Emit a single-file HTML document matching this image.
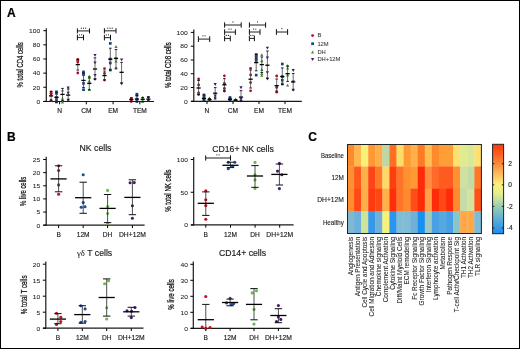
<!DOCTYPE html>
<html><head><meta charset="utf-8"><style>
html,body{margin:0;padding:0;background:#fff;}
body{width:520px;height:349px;overflow:hidden;}
svg{display:block;will-change:transform;}
text{font-family:"Liberation Sans",sans-serif;}
</style></head><body>
<svg width="520" height="349" viewBox="0 0 520 349">
<rect x="0" y="0" width="520" height="349" fill="#fff"/>
<line x1="46.30" y1="28.20" x2="46.30" y2="102.10" stroke="#1a1a1a" stroke-width="1.2" />
<line x1="43.30" y1="101.50" x2="154.00" y2="101.50" stroke="#1a1a1a" stroke-width="1.2" />
<line x1="43.30" y1="101.40" x2="46.30" y2="101.40" stroke="#000" stroke-width="1" />
<text transform="translate(40.30,103.70) scale(1.1,1)" x="0" y="0" font-size="6.1" text-anchor="end" fill="#1a1a1a" stroke="#1a1a1a" stroke-width="0.045" >0</text>
<line x1="43.30" y1="87.26" x2="46.30" y2="87.26" stroke="#000" stroke-width="1" />
<text transform="translate(40.30,89.56) scale(1.1,1)" x="0" y="0" font-size="6.1" text-anchor="end" fill="#1a1a1a" stroke="#1a1a1a" stroke-width="0.045" >20</text>
<line x1="43.30" y1="73.12" x2="46.30" y2="73.12" stroke="#000" stroke-width="1" />
<text transform="translate(40.30,75.42) scale(1.1,1)" x="0" y="0" font-size="6.1" text-anchor="end" fill="#1a1a1a" stroke="#1a1a1a" stroke-width="0.045" >40</text>
<line x1="43.30" y1="58.98" x2="46.30" y2="58.98" stroke="#000" stroke-width="1" />
<text transform="translate(40.30,61.28) scale(1.1,1)" x="0" y="0" font-size="6.1" text-anchor="end" fill="#1a1a1a" stroke="#1a1a1a" stroke-width="0.045" >60</text>
<line x1="43.30" y1="44.84" x2="46.30" y2="44.84" stroke="#000" stroke-width="1" />
<text transform="translate(40.30,47.14) scale(1.1,1)" x="0" y="0" font-size="6.1" text-anchor="end" fill="#1a1a1a" stroke="#1a1a1a" stroke-width="0.045" >80</text>
<line x1="43.30" y1="30.70" x2="46.30" y2="30.70" stroke="#000" stroke-width="1" />
<text transform="translate(40.30,33.00) scale(1.1,1)" x="0" y="0" font-size="6.1" text-anchor="end" fill="#1a1a1a" stroke="#1a1a1a" stroke-width="0.045" >100</text>
<line x1="59.60" y1="101.50" x2="59.60" y2="104.30" stroke="#000" stroke-width="1" />
<text x="59.60" y="113.40" font-size="6.6" text-anchor="middle" fill="#1a1a1a" stroke="#1a1a1a" stroke-width="0.150" >N</text>
<line x1="86.30" y1="101.50" x2="86.30" y2="104.30" stroke="#000" stroke-width="1" />
<text x="86.30" y="113.40" font-size="6.6" text-anchor="middle" fill="#1a1a1a" stroke="#1a1a1a" stroke-width="0.150" >CM</text>
<line x1="113.10" y1="101.50" x2="113.10" y2="104.30" stroke="#000" stroke-width="1" />
<text x="113.10" y="113.40" font-size="6.6" text-anchor="middle" fill="#1a1a1a" stroke="#1a1a1a" stroke-width="0.150" >EM</text>
<line x1="139.85" y1="101.50" x2="139.85" y2="104.30" stroke="#000" stroke-width="1" />
<text x="139.85" y="113.40" font-size="6.6" text-anchor="middle" fill="#1a1a1a" stroke="#1a1a1a" stroke-width="0.150" >TEM</text>
<text transform="translate(23.00,64.80) rotate(-90)" x="0" y="0" font-size="8.6" font-weight="normal" text-anchor="middle" fill="#111" stroke="#111" stroke-width="0.25" textLength="45.2" lengthAdjust="spacingAndGlyphs">% total CD4 cells</text>
<circle cx="51.10" cy="91.80" r="1.38" fill="#b00c24"/>
<circle cx="51.10" cy="93.20" r="1.38" fill="#b00c24"/>
<circle cx="51.10" cy="94.00" r="1.38" fill="#b00c24"/>
<circle cx="51.10" cy="100.40" r="1.38" fill="#b00c24"/>
<line x1="51.10" y1="91.50" x2="51.10" y2="100.20" stroke="#444" stroke-width="0.8" />
<line x1="49.80" y1="91.50" x2="52.40" y2="91.50" stroke="#111" stroke-width="0.9" />
<line x1="49.80" y1="100.20" x2="52.40" y2="100.20" stroke="#111" stroke-width="0.9" />
<line x1="49.00" y1="95.90" x2="53.20" y2="95.90" stroke="#000" stroke-width="1.3" />
<rect x="55.17" y="90.47" width="2.66" height="2.66" fill="#183c82"/>
<rect x="55.17" y="92.17" width="2.66" height="2.66" fill="#183c82"/>
<rect x="55.17" y="96.07" width="2.66" height="2.66" fill="#183c82"/>
<rect x="55.17" y="98.67" width="2.66" height="2.66" fill="#183c82"/>
<rect x="55.17" y="100.67" width="2.66" height="2.66" fill="#183c82"/>
<line x1="56.50" y1="92.50" x2="56.50" y2="102.00" stroke="#444" stroke-width="0.8" />
<line x1="55.20" y1="92.50" x2="57.80" y2="92.50" stroke="#111" stroke-width="0.9" />
<line x1="55.20" y1="102.00" x2="57.80" y2="102.00" stroke="#111" stroke-width="0.9" />
<line x1="54.40" y1="97.40" x2="58.60" y2="97.40" stroke="#000" stroke-width="1.3" />
<polygon points="62.50,88.69 64.11,91.59 60.88,91.59" fill="#349328"/>
<polygon points="62.50,96.89 64.11,99.79 60.88,99.79" fill="#349328"/>
<polygon points="62.50,100.59 64.11,103.49 60.88,103.49" fill="#349328"/>
<line x1="62.50" y1="88.40" x2="62.50" y2="100.50" stroke="#444" stroke-width="0.8" />
<line x1="61.20" y1="88.40" x2="63.80" y2="88.40" stroke="#111" stroke-width="0.9" />
<line x1="61.20" y1="100.50" x2="63.80" y2="100.50" stroke="#111" stroke-width="0.9" />
<line x1="60.40" y1="94.40" x2="64.60" y2="94.40" stroke="#000" stroke-width="1.3" />
<polygon points="68.20,89.31 69.81,86.41 66.59,86.41" fill="#401468"/>
<polygon points="68.20,94.61 69.81,91.71 66.59,91.71" fill="#401468"/>
<polygon points="68.20,101.61 69.81,98.71 66.59,98.71" fill="#401468"/>
<line x1="68.20" y1="89.00" x2="68.20" y2="100.00" stroke="#444" stroke-width="0.8" />
<line x1="66.90" y1="89.00" x2="69.50" y2="89.00" stroke="#111" stroke-width="0.9" />
<line x1="66.90" y1="100.00" x2="69.50" y2="100.00" stroke="#111" stroke-width="0.9" />
<line x1="66.10" y1="95.10" x2="70.30" y2="95.10" stroke="#000" stroke-width="1.3" />
<circle cx="77.80" cy="59.30" r="1.38" fill="#b00c24"/>
<circle cx="77.80" cy="60.60" r="1.38" fill="#b00c24"/>
<circle cx="77.80" cy="61.90" r="1.38" fill="#b00c24"/>
<circle cx="77.80" cy="73.00" r="1.38" fill="#b00c24"/>
<line x1="77.80" y1="59.30" x2="77.80" y2="70.10" stroke="#444" stroke-width="0.8" />
<line x1="76.50" y1="59.30" x2="79.10" y2="59.30" stroke="#111" stroke-width="0.9" />
<line x1="76.50" y1="70.10" x2="79.10" y2="70.10" stroke="#111" stroke-width="0.9" />
<line x1="75.70" y1="64.60" x2="79.90" y2="64.60" stroke="#000" stroke-width="1.3" />
<rect x="82.17" y="70.57" width="2.66" height="2.66" fill="#183c82"/>
<rect x="82.17" y="71.97" width="2.66" height="2.66" fill="#183c82"/>
<rect x="82.17" y="73.47" width="2.66" height="2.66" fill="#183c82"/>
<rect x="82.17" y="82.07" width="2.66" height="2.66" fill="#183c82"/>
<rect x="82.17" y="88.37" width="2.66" height="2.66" fill="#183c82"/>
<line x1="83.50" y1="73.00" x2="83.50" y2="87.50" stroke="#444" stroke-width="0.8" />
<line x1="82.20" y1="73.00" x2="84.80" y2="73.00" stroke="#111" stroke-width="0.9" />
<line x1="82.20" y1="87.50" x2="84.80" y2="87.50" stroke="#111" stroke-width="0.9" />
<line x1="81.40" y1="80.40" x2="85.60" y2="80.40" stroke="#000" stroke-width="1.3" />
<polygon points="89.30,74.69 90.91,77.59 87.69,77.59" fill="#349328"/>
<polygon points="89.30,75.98 90.91,78.89 87.69,78.89" fill="#349328"/>
<polygon points="89.30,79.59 90.91,82.49 87.69,82.49" fill="#349328"/>
<polygon points="89.30,88.09 90.91,90.99 87.69,90.99" fill="#349328"/>
<line x1="89.30" y1="77.00" x2="89.30" y2="89.70" stroke="#444" stroke-width="0.8" />
<line x1="88.00" y1="77.00" x2="90.60" y2="77.00" stroke="#111" stroke-width="0.9" />
<line x1="88.00" y1="89.70" x2="90.60" y2="89.70" stroke="#111" stroke-width="0.9" />
<line x1="87.20" y1="83.40" x2="91.40" y2="83.40" stroke="#000" stroke-width="1.3" />
<polygon points="95.00,56.82 96.61,53.91 93.39,53.91" fill="#401468"/>
<polygon points="95.00,64.31 96.61,61.41 93.39,61.41" fill="#401468"/>
<polygon points="95.00,76.81 96.61,73.91 93.39,73.91" fill="#401468"/>
<polygon points="95.00,80.91 96.61,78.01 93.39,78.01" fill="#401468"/>
<line x1="95.00" y1="57.80" x2="95.00" y2="79.50" stroke="#444" stroke-width="0.8" />
<line x1="93.70" y1="57.80" x2="96.30" y2="57.80" stroke="#111" stroke-width="0.9" />
<line x1="93.70" y1="79.50" x2="96.30" y2="79.50" stroke="#111" stroke-width="0.9" />
<line x1="92.90" y1="69.00" x2="97.10" y2="69.00" stroke="#000" stroke-width="1.3" />
<circle cx="104.50" cy="68.60" r="1.38" fill="#b00c24"/>
<circle cx="104.50" cy="73.40" r="1.38" fill="#b00c24"/>
<circle cx="104.50" cy="80.10" r="1.38" fill="#b00c24"/>
<line x1="104.50" y1="71.00" x2="104.50" y2="80.00" stroke="#444" stroke-width="0.8" />
<line x1="103.20" y1="71.00" x2="105.80" y2="71.00" stroke="#111" stroke-width="0.9" />
<line x1="103.20" y1="80.00" x2="105.80" y2="80.00" stroke="#111" stroke-width="0.9" />
<line x1="102.40" y1="75.60" x2="106.60" y2="75.60" stroke="#000" stroke-width="1.3" />
<rect x="108.97" y="42.07" width="2.66" height="2.66" fill="#183c82"/>
<rect x="108.97" y="57.67" width="2.66" height="2.66" fill="#183c82"/>
<rect x="108.97" y="61.67" width="2.66" height="2.66" fill="#183c82"/>
<rect x="108.97" y="68.67" width="2.66" height="2.66" fill="#183c82"/>
<line x1="110.30" y1="48.20" x2="110.30" y2="70.00" stroke="#444" stroke-width="0.8" />
<line x1="109.00" y1="48.20" x2="111.60" y2="48.20" stroke="#111" stroke-width="0.9" />
<line x1="109.00" y1="70.00" x2="111.60" y2="70.00" stroke="#111" stroke-width="0.9" />
<line x1="108.20" y1="59.20" x2="112.40" y2="59.20" stroke="#000" stroke-width="1.3" />
<polygon points="116.00,45.09 117.61,47.99 114.39,47.99" fill="#349328"/>
<polygon points="116.00,56.68 117.61,59.59 114.39,59.59" fill="#349328"/>
<polygon points="116.00,59.59 117.61,62.49 114.39,62.49" fill="#349328"/>
<polygon points="116.00,66.59 117.61,69.49 114.39,69.49" fill="#349328"/>
<line x1="116.00" y1="49.50" x2="116.00" y2="68.20" stroke="#444" stroke-width="0.8" />
<line x1="114.70" y1="49.50" x2="117.30" y2="49.50" stroke="#111" stroke-width="0.9" />
<line x1="114.70" y1="68.20" x2="117.30" y2="68.20" stroke="#111" stroke-width="0.9" />
<line x1="113.90" y1="58.30" x2="118.10" y2="58.30" stroke="#000" stroke-width="1.3" />
<polygon points="121.60,61.32 123.21,58.41 119.98,58.41" fill="#401468"/>
<polygon points="121.60,85.31 123.21,82.41 119.98,82.41" fill="#401468"/>
<line x1="121.60" y1="62.40" x2="121.60" y2="83.00" stroke="#444" stroke-width="0.8" />
<line x1="120.30" y1="62.40" x2="122.90" y2="62.40" stroke="#111" stroke-width="0.9" />
<line x1="120.30" y1="83.00" x2="122.90" y2="83.00" stroke="#111" stroke-width="0.9" />
<line x1="119.50" y1="72.30" x2="123.70" y2="72.30" stroke="#000" stroke-width="1.3" />
<circle cx="131.30" cy="98.30" r="1.38" fill="#b00c24"/>
<circle cx="131.30" cy="99.60" r="1.38" fill="#b00c24"/>
<circle cx="131.30" cy="101.50" r="1.38" fill="#b00c24"/>
<line x1="131.30" y1="97.80" x2="131.30" y2="101.50" stroke="#444" stroke-width="0.8" />
<line x1="130.00" y1="97.80" x2="132.60" y2="97.80" stroke="#111" stroke-width="0.9" />
<line x1="130.00" y1="101.50" x2="132.60" y2="101.50" stroke="#111" stroke-width="0.9" />
<line x1="129.20" y1="99.60" x2="133.40" y2="99.60" stroke="#000" stroke-width="1.3" />
<rect x="135.57" y="92.87" width="2.66" height="2.66" fill="#183c82"/>
<rect x="135.57" y="94.07" width="2.66" height="2.66" fill="#183c82"/>
<rect x="135.57" y="97.77" width="2.66" height="2.66" fill="#183c82"/>
<rect x="135.57" y="100.17" width="2.66" height="2.66" fill="#183c82"/>
<line x1="136.90" y1="95.50" x2="136.90" y2="101.50" stroke="#444" stroke-width="0.8" />
<line x1="135.60" y1="95.50" x2="138.20" y2="95.50" stroke="#111" stroke-width="0.9" />
<line x1="135.60" y1="101.50" x2="138.20" y2="101.50" stroke="#111" stroke-width="0.9" />
<line x1="134.80" y1="99.10" x2="139.00" y2="99.10" stroke="#000" stroke-width="1.3" />
<polygon points="142.70,95.69 144.31,98.59 141.08,98.59" fill="#349328"/>
<polygon points="142.70,97.69 144.31,100.59 141.08,100.59" fill="#349328"/>
<polygon points="142.70,99.98 144.31,102.89 141.08,102.89" fill="#349328"/>
<line x1="142.70" y1="97.50" x2="142.70" y2="101.50" stroke="#444" stroke-width="0.8" />
<line x1="141.40" y1="97.50" x2="144.00" y2="97.50" stroke="#111" stroke-width="0.9" />
<line x1="141.40" y1="101.50" x2="144.00" y2="101.50" stroke="#111" stroke-width="0.9" />
<line x1="140.60" y1="99.30" x2="144.80" y2="99.30" stroke="#000" stroke-width="1.3" />
<polygon points="148.40,98.91 150.02,96.01 146.78,96.01" fill="#401468"/>
<polygon points="148.40,102.11 150.02,99.21 146.78,99.21" fill="#401468"/>
<line x1="148.40" y1="97.50" x2="148.40" y2="101.00" stroke="#444" stroke-width="0.8" />
<line x1="147.10" y1="97.50" x2="149.70" y2="97.50" stroke="#111" stroke-width="0.9" />
<line x1="147.10" y1="101.00" x2="149.70" y2="101.00" stroke="#111" stroke-width="0.9" />
<line x1="146.30" y1="99.10" x2="150.50" y2="99.10" stroke="#000" stroke-width="1.3" />
<line x1="77.40" y1="30.90" x2="89.50" y2="30.90" stroke="#333" stroke-width="1.1" />
<line x1="77.40" y1="28.40" x2="77.40" y2="33.40" stroke="#111" stroke-width="1.0" />
<line x1="89.50" y1="28.40" x2="89.50" y2="33.40" stroke="#111" stroke-width="1.0" />
<circle cx="81.30" cy="28.20" r="0.6" fill="#222"/>
<circle cx="83.50" cy="28.20" r="0.6" fill="#222"/>
<circle cx="85.70" cy="28.20" r="0.6" fill="#222"/>
<line x1="77.40" y1="37.50" x2="83.50" y2="37.50" stroke="#333" stroke-width="1.1" />
<line x1="77.40" y1="34.70" x2="77.40" y2="40.30" stroke="#111" stroke-width="1.0" />
<line x1="83.50" y1="34.70" x2="83.50" y2="40.30" stroke="#111" stroke-width="1.0" />
<circle cx="79.40" cy="34.80" r="0.6" fill="#222"/>
<circle cx="81.60" cy="34.80" r="0.6" fill="#222"/>
<line x1="104.40" y1="30.80" x2="116.00" y2="30.80" stroke="#333" stroke-width="1.1" />
<line x1="104.40" y1="28.20" x2="104.40" y2="33.40" stroke="#111" stroke-width="1.0" />
<line x1="116.00" y1="28.20" x2="116.00" y2="33.40" stroke="#111" stroke-width="1.0" />
<circle cx="107.80" cy="28.20" r="0.6" fill="#222"/>
<circle cx="110.00" cy="28.20" r="0.6" fill="#222"/>
<circle cx="112.20" cy="28.20" r="0.6" fill="#222"/>
<line x1="104.40" y1="37.60" x2="110.50" y2="37.60" stroke="#333" stroke-width="1.1" />
<line x1="104.40" y1="34.80" x2="104.40" y2="40.40" stroke="#111" stroke-width="1.0" />
<line x1="110.50" y1="34.80" x2="110.50" y2="40.40" stroke="#111" stroke-width="1.0" />
<circle cx="106.30" cy="34.80" r="0.6" fill="#222"/>
<circle cx="108.50" cy="34.80" r="0.6" fill="#222"/>
<line x1="193.80" y1="29.40" x2="193.80" y2="101.90" stroke="#1a1a1a" stroke-width="1.2" />
<line x1="191.30" y1="101.30" x2="301.80" y2="101.30" stroke="#1a1a1a" stroke-width="1.2" />
<line x1="190.80" y1="101.30" x2="193.80" y2="101.30" stroke="#000" stroke-width="1" />
<text transform="translate(187.80,103.60) scale(1.1,1)" x="0" y="0" font-size="6.1" text-anchor="end" fill="#1a1a1a" stroke="#1a1a1a" stroke-width="0.045" >0</text>
<line x1="190.80" y1="87.52" x2="193.80" y2="87.52" stroke="#000" stroke-width="1" />
<text transform="translate(187.80,89.82) scale(1.1,1)" x="0" y="0" font-size="6.1" text-anchor="end" fill="#1a1a1a" stroke="#1a1a1a" stroke-width="0.045" >20</text>
<line x1="190.80" y1="73.74" x2="193.80" y2="73.74" stroke="#000" stroke-width="1" />
<text transform="translate(187.80,76.04) scale(1.1,1)" x="0" y="0" font-size="6.1" text-anchor="end" fill="#1a1a1a" stroke="#1a1a1a" stroke-width="0.045" >40</text>
<line x1="190.80" y1="59.96" x2="193.80" y2="59.96" stroke="#000" stroke-width="1" />
<text transform="translate(187.80,62.26) scale(1.1,1)" x="0" y="0" font-size="6.1" text-anchor="end" fill="#1a1a1a" stroke="#1a1a1a" stroke-width="0.045" >60</text>
<line x1="190.80" y1="46.18" x2="193.80" y2="46.18" stroke="#000" stroke-width="1" />
<text transform="translate(187.80,48.48) scale(1.1,1)" x="0" y="0" font-size="6.1" text-anchor="end" fill="#1a1a1a" stroke="#1a1a1a" stroke-width="0.045" >80</text>
<line x1="190.80" y1="32.40" x2="193.80" y2="32.40" stroke="#000" stroke-width="1" />
<text transform="translate(187.80,34.70) scale(1.1,1)" x="0" y="0" font-size="6.1" text-anchor="end" fill="#1a1a1a" stroke="#1a1a1a" stroke-width="0.045" >100</text>
<line x1="207.00" y1="101.30" x2="207.00" y2="104.10" stroke="#000" stroke-width="1" />
<text x="207.00" y="113.40" font-size="6.6" text-anchor="middle" fill="#1a1a1a" stroke="#1a1a1a" stroke-width="0.150" >N</text>
<line x1="233.00" y1="101.30" x2="233.00" y2="104.10" stroke="#000" stroke-width="1" />
<text x="233.00" y="113.40" font-size="6.6" text-anchor="middle" fill="#1a1a1a" stroke="#1a1a1a" stroke-width="0.150" >CM</text>
<line x1="259.00" y1="101.30" x2="259.00" y2="104.10" stroke="#000" stroke-width="1" />
<text x="259.00" y="113.40" font-size="6.6" text-anchor="middle" fill="#1a1a1a" stroke="#1a1a1a" stroke-width="0.150" >EM</text>
<line x1="285.00" y1="101.30" x2="285.00" y2="104.10" stroke="#000" stroke-width="1" />
<text x="285.00" y="113.40" font-size="6.6" text-anchor="middle" fill="#1a1a1a" stroke="#1a1a1a" stroke-width="0.150" >TEM</text>
<text transform="translate(170.60,65.20) rotate(-90)" x="0" y="0" font-size="8.6" font-weight="normal" text-anchor="middle" fill="#111" stroke="#111" stroke-width="0.25" textLength="45.8" lengthAdjust="spacingAndGlyphs">% total CD8 cells</text>
<circle cx="198.60" cy="79.00" r="1.38" fill="#b00c24"/>
<circle cx="198.60" cy="85.00" r="1.38" fill="#b00c24"/>
<circle cx="198.60" cy="92.80" r="1.38" fill="#b00c24"/>
<circle cx="198.60" cy="94.50" r="1.38" fill="#b00c24"/>
<line x1="198.60" y1="80.50" x2="198.60" y2="94.50" stroke="#444" stroke-width="0.8" />
<line x1="197.30" y1="80.50" x2="199.90" y2="80.50" stroke="#111" stroke-width="0.9" />
<line x1="197.30" y1="94.50" x2="199.90" y2="94.50" stroke="#111" stroke-width="0.9" />
<line x1="196.50" y1="88.00" x2="200.70" y2="88.00" stroke="#000" stroke-width="1.3" />
<rect x="202.67" y="93.57" width="2.66" height="2.66" fill="#183c82"/>
<rect x="202.67" y="95.17" width="2.66" height="2.66" fill="#183c82"/>
<rect x="202.67" y="96.67" width="2.66" height="2.66" fill="#183c82"/>
<rect x="202.67" y="98.67" width="2.66" height="2.66" fill="#183c82"/>
<line x1="204.00" y1="95.00" x2="204.00" y2="101.00" stroke="#444" stroke-width="0.8" />
<line x1="202.70" y1="95.00" x2="205.30" y2="95.00" stroke="#111" stroke-width="0.9" />
<line x1="202.70" y1="101.00" x2="205.30" y2="101.00" stroke="#111" stroke-width="0.9" />
<line x1="201.90" y1="98.50" x2="206.10" y2="98.50" stroke="#000" stroke-width="1.3" />
<polygon points="209.50,96.39 211.12,99.29 207.88,99.29" fill="#349328"/>
<polygon points="209.50,98.89 211.12,101.79 207.88,101.79" fill="#349328"/>
<line x1="209.50" y1="98.50" x2="209.50" y2="101.00" stroke="#444" stroke-width="0.8" />
<line x1="208.20" y1="98.50" x2="210.80" y2="98.50" stroke="#111" stroke-width="0.9" />
<line x1="208.20" y1="101.00" x2="210.80" y2="101.00" stroke="#111" stroke-width="0.9" />
<line x1="207.40" y1="99.70" x2="211.60" y2="99.70" stroke="#000" stroke-width="1.3" />
<polygon points="215.20,86.02 216.81,83.11 213.58,83.11" fill="#401468"/>
<polygon points="215.20,97.41 216.81,94.51 213.58,94.51" fill="#401468"/>
<polygon points="215.20,99.61 216.81,96.71 213.58,96.71" fill="#401468"/>
<line x1="215.20" y1="87.60" x2="215.20" y2="99.00" stroke="#444" stroke-width="0.8" />
<line x1="213.90" y1="87.60" x2="216.50" y2="87.60" stroke="#111" stroke-width="0.9" />
<line x1="213.90" y1="99.00" x2="216.50" y2="99.00" stroke="#111" stroke-width="0.9" />
<line x1="213.10" y1="93.20" x2="217.30" y2="93.20" stroke="#000" stroke-width="1.3" />
<circle cx="224.40" cy="75.80" r="1.38" fill="#b00c24"/>
<circle cx="224.40" cy="83.30" r="1.38" fill="#b00c24"/>
<circle cx="224.40" cy="88.50" r="1.38" fill="#b00c24"/>
<circle cx="224.40" cy="91.00" r="1.38" fill="#b00c24"/>
<line x1="224.40" y1="78.60" x2="224.40" y2="91.00" stroke="#444" stroke-width="0.8" />
<line x1="223.10" y1="78.60" x2="225.70" y2="78.60" stroke="#111" stroke-width="0.9" />
<line x1="223.10" y1="91.00" x2="225.70" y2="91.00" stroke="#111" stroke-width="0.9" />
<line x1="222.30" y1="84.80" x2="226.50" y2="84.80" stroke="#000" stroke-width="1.3" />
<rect x="228.67" y="96.17" width="2.66" height="2.66" fill="#183c82"/>
<rect x="228.67" y="97.67" width="2.66" height="2.66" fill="#183c82"/>
<rect x="228.67" y="99.17" width="2.66" height="2.66" fill="#183c82"/>
<line x1="230.00" y1="98.00" x2="230.00" y2="101.00" stroke="#444" stroke-width="0.8" />
<line x1="228.70" y1="98.00" x2="231.30" y2="98.00" stroke="#111" stroke-width="0.9" />
<line x1="228.70" y1="101.00" x2="231.30" y2="101.00" stroke="#111" stroke-width="0.9" />
<line x1="227.90" y1="99.30" x2="232.10" y2="99.30" stroke="#000" stroke-width="1.3" />
<polygon points="235.60,97.59 237.22,100.49 233.98,100.49" fill="#349328"/>
<polygon points="235.60,99.19 237.22,102.09 233.98,102.09" fill="#349328"/>
<line x1="235.60" y1="99.50" x2="235.60" y2="101.00" stroke="#444" stroke-width="0.8" />
<line x1="234.30" y1="99.50" x2="236.90" y2="99.50" stroke="#111" stroke-width="0.9" />
<line x1="234.30" y1="101.00" x2="236.90" y2="101.00" stroke="#111" stroke-width="0.9" />
<line x1="233.50" y1="100.20" x2="237.70" y2="100.20" stroke="#000" stroke-width="1.3" />
<polygon points="241.00,89.21 242.62,86.31 239.38,86.31" fill="#401468"/>
<polygon points="241.00,100.61 242.62,97.71 239.38,97.71" fill="#401468"/>
<polygon points="241.00,102.61 242.62,99.71 239.38,99.71" fill="#401468"/>
<line x1="241.00" y1="90.60" x2="241.00" y2="101.00" stroke="#444" stroke-width="0.8" />
<line x1="239.70" y1="90.60" x2="242.30" y2="90.60" stroke="#111" stroke-width="0.9" />
<line x1="239.70" y1="101.00" x2="242.30" y2="101.00" stroke="#111" stroke-width="0.9" />
<line x1="238.90" y1="97.10" x2="243.10" y2="97.10" stroke="#000" stroke-width="1.3" />
<circle cx="250.60" cy="68.30" r="1.38" fill="#b00c24"/>
<circle cx="250.60" cy="74.90" r="1.38" fill="#b00c24"/>
<circle cx="250.60" cy="82.60" r="1.38" fill="#b00c24"/>
<circle cx="250.60" cy="90.80" r="1.38" fill="#b00c24"/>
<line x1="250.60" y1="70.00" x2="250.60" y2="88.00" stroke="#444" stroke-width="0.8" />
<line x1="249.30" y1="70.00" x2="251.90" y2="70.00" stroke="#111" stroke-width="0.9" />
<line x1="249.30" y1="88.00" x2="251.90" y2="88.00" stroke="#111" stroke-width="0.9" />
<line x1="248.50" y1="79.20" x2="252.70" y2="79.20" stroke="#000" stroke-width="1.3" />
<rect x="254.87" y="53.17" width="2.66" height="2.66" fill="#183c82"/>
<rect x="254.87" y="54.67" width="2.66" height="2.66" fill="#183c82"/>
<rect x="254.87" y="56.17" width="2.66" height="2.66" fill="#183c82"/>
<rect x="254.87" y="57.67" width="2.66" height="2.66" fill="#183c82"/>
<rect x="254.87" y="59.17" width="2.66" height="2.66" fill="#183c82"/>
<rect x="254.87" y="73.77" width="2.66" height="2.66" fill="#183c82"/>
<line x1="256.20" y1="54.50" x2="256.20" y2="70.80" stroke="#444" stroke-width="0.8" />
<line x1="254.90" y1="54.50" x2="257.50" y2="54.50" stroke="#111" stroke-width="0.9" />
<line x1="254.90" y1="70.80" x2="257.50" y2="70.80" stroke="#111" stroke-width="0.9" />
<line x1="254.10" y1="62.60" x2="258.30" y2="62.60" stroke="#000" stroke-width="1.3" />
<polygon points="261.80,53.28 263.42,56.19 260.19,56.19" fill="#349328"/>
<polygon points="261.80,59.28 263.42,62.19 260.19,62.19" fill="#349328"/>
<polygon points="261.80,68.09 263.42,70.99 260.19,70.99" fill="#349328"/>
<polygon points="261.80,71.98 263.42,74.89 260.19,74.89" fill="#349328"/>
<polygon points="261.80,73.89 263.42,76.79 260.19,76.79" fill="#349328"/>
<line x1="261.80" y1="57.00" x2="261.80" y2="72.50" stroke="#444" stroke-width="0.8" />
<line x1="260.50" y1="57.00" x2="263.10" y2="57.00" stroke="#111" stroke-width="0.9" />
<line x1="260.50" y1="72.50" x2="263.10" y2="72.50" stroke="#111" stroke-width="0.9" />
<line x1="259.70" y1="64.60" x2="263.90" y2="64.60" stroke="#000" stroke-width="1.3" />
<polygon points="267.40,49.62 269.01,46.71 265.78,46.71" fill="#401468"/>
<polygon points="267.40,59.52 269.01,56.61 265.78,56.61" fill="#401468"/>
<polygon points="267.40,74.11 269.01,71.21 265.78,71.21" fill="#401468"/>
<polygon points="267.40,80.41 269.01,77.51 265.78,77.51" fill="#401468"/>
<line x1="267.40" y1="51.00" x2="267.40" y2="78.50" stroke="#444" stroke-width="0.8" />
<line x1="266.10" y1="51.00" x2="268.70" y2="51.00" stroke="#111" stroke-width="0.9" />
<line x1="266.10" y1="78.50" x2="268.70" y2="78.50" stroke="#111" stroke-width="0.9" />
<line x1="265.30" y1="65.20" x2="269.50" y2="65.20" stroke="#000" stroke-width="1.3" />
<circle cx="276.70" cy="76.00" r="1.38" fill="#b00c24"/>
<circle cx="276.70" cy="87.50" r="1.38" fill="#b00c24"/>
<circle cx="276.70" cy="92.20" r="1.38" fill="#b00c24"/>
<line x1="276.70" y1="79.00" x2="276.70" y2="91.00" stroke="#444" stroke-width="0.8" />
<line x1="275.40" y1="79.00" x2="278.00" y2="79.00" stroke="#111" stroke-width="0.9" />
<line x1="275.40" y1="91.00" x2="278.00" y2="91.00" stroke="#111" stroke-width="0.9" />
<line x1="274.60" y1="85.70" x2="278.80" y2="85.70" stroke="#000" stroke-width="1.3" />
<rect x="280.97" y="62.67" width="2.66" height="2.66" fill="#183c82"/>
<rect x="280.97" y="75.37" width="2.66" height="2.66" fill="#183c82"/>
<rect x="280.97" y="78.87" width="2.66" height="2.66" fill="#183c82"/>
<rect x="280.97" y="82.67" width="2.66" height="2.66" fill="#183c82"/>
<line x1="282.30" y1="67.90" x2="282.30" y2="84.50" stroke="#444" stroke-width="0.8" />
<line x1="281.00" y1="67.90" x2="283.60" y2="67.90" stroke="#111" stroke-width="0.9" />
<line x1="281.00" y1="84.50" x2="283.60" y2="84.50" stroke="#111" stroke-width="0.9" />
<line x1="280.20" y1="76.50" x2="284.40" y2="76.50" stroke="#000" stroke-width="1.3" />
<polygon points="287.60,64.09 289.22,66.99 285.99,66.99" fill="#349328"/>
<polygon points="287.60,66.69 289.22,69.59 285.99,69.59" fill="#349328"/>
<polygon points="287.60,73.59 289.22,76.49 285.99,76.49" fill="#349328"/>
<polygon points="287.60,83.69 289.22,86.59 285.99,86.59" fill="#349328"/>
<line x1="287.60" y1="66.00" x2="287.60" y2="81.40" stroke="#444" stroke-width="0.8" />
<line x1="286.30" y1="66.00" x2="288.90" y2="66.00" stroke="#111" stroke-width="0.9" />
<line x1="286.30" y1="81.40" x2="288.90" y2="81.40" stroke="#111" stroke-width="0.9" />
<line x1="285.50" y1="73.70" x2="289.70" y2="73.70" stroke="#000" stroke-width="1.3" />
<polygon points="293.20,71.91 294.81,69.01 291.58,69.01" fill="#401468"/>
<polygon points="293.20,83.31 294.81,80.41 291.58,80.41" fill="#401468"/>
<polygon points="293.20,91.61 294.81,88.71 291.58,88.71" fill="#401468"/>
<line x1="293.20" y1="73.50" x2="293.20" y2="90.00" stroke="#444" stroke-width="0.8" />
<line x1="291.90" y1="73.50" x2="294.50" y2="73.50" stroke="#111" stroke-width="0.9" />
<line x1="291.90" y1="90.00" x2="294.50" y2="90.00" stroke="#111" stroke-width="0.9" />
<line x1="291.10" y1="81.90" x2="295.30" y2="81.90" stroke="#000" stroke-width="1.3" />
<line x1="198.40" y1="39.10" x2="209.70" y2="39.10" stroke="#333" stroke-width="1.1" />
<line x1="198.40" y1="36.20" x2="198.40" y2="42.00" stroke="#111" stroke-width="1.0" />
<line x1="209.70" y1="36.20" x2="209.70" y2="42.00" stroke="#111" stroke-width="1.0" />
<circle cx="202.90" cy="35.80" r="0.6" fill="#222"/>
<circle cx="205.10" cy="35.80" r="0.6" fill="#222"/>
<line x1="224.60" y1="25.00" x2="241.20" y2="25.00" stroke="#333" stroke-width="1.1" />
<line x1="224.60" y1="22.30" x2="224.60" y2="27.70" stroke="#111" stroke-width="1.0" />
<line x1="241.20" y1="22.30" x2="241.20" y2="27.70" stroke="#111" stroke-width="1.0" />
<circle cx="233.00" cy="21.90" r="0.6" fill="#222"/>
<line x1="224.60" y1="32.10" x2="235.40" y2="32.10" stroke="#333" stroke-width="1.1" />
<line x1="224.60" y1="29.30" x2="224.60" y2="34.90" stroke="#111" stroke-width="1.0" />
<line x1="235.40" y1="29.30" x2="235.40" y2="34.90" stroke="#111" stroke-width="1.0" />
<circle cx="228.90" cy="29.10" r="0.6" fill="#222"/>
<circle cx="231.10" cy="29.10" r="0.6" fill="#222"/>
<line x1="224.60" y1="38.50" x2="230.30" y2="38.50" stroke="#333" stroke-width="1.1" />
<line x1="224.60" y1="35.70" x2="224.60" y2="41.30" stroke="#111" stroke-width="1.0" />
<line x1="230.30" y1="35.70" x2="230.30" y2="41.30" stroke="#111" stroke-width="1.0" />
<circle cx="226.30" cy="35.40" r="0.6" fill="#222"/>
<circle cx="228.50" cy="35.40" r="0.6" fill="#222"/>
<line x1="249.40" y1="25.00" x2="265.60" y2="25.00" stroke="#333" stroke-width="1.1" />
<line x1="249.40" y1="22.30" x2="249.40" y2="27.70" stroke="#111" stroke-width="1.0" />
<line x1="265.60" y1="22.30" x2="265.60" y2="27.70" stroke="#111" stroke-width="1.0" />
<circle cx="257.50" cy="21.80" r="0.6" fill="#222"/>
<line x1="249.40" y1="32.00" x2="260.00" y2="32.00" stroke="#333" stroke-width="1.1" />
<line x1="249.40" y1="29.20" x2="249.40" y2="34.80" stroke="#111" stroke-width="1.0" />
<line x1="260.00" y1="29.20" x2="260.00" y2="34.80" stroke="#111" stroke-width="1.0" />
<circle cx="253.60" cy="29.10" r="0.6" fill="#222"/>
<circle cx="255.80" cy="29.10" r="0.6" fill="#222"/>
<line x1="249.40" y1="38.40" x2="254.40" y2="38.40" stroke="#333" stroke-width="1.1" />
<line x1="249.40" y1="35.60" x2="249.40" y2="41.20" stroke="#111" stroke-width="1.0" />
<line x1="254.40" y1="35.60" x2="254.40" y2="41.20" stroke="#111" stroke-width="1.0" />
<circle cx="250.80" cy="35.40" r="0.6" fill="#222"/>
<circle cx="253.00" cy="35.40" r="0.6" fill="#222"/>
<line x1="276.40" y1="32.00" x2="287.60" y2="32.00" stroke="#333" stroke-width="1.1" />
<line x1="276.40" y1="29.10" x2="276.40" y2="34.90" stroke="#111" stroke-width="1.0" />
<line x1="287.60" y1="29.10" x2="287.60" y2="34.90" stroke="#111" stroke-width="1.0" />
<circle cx="281.90" cy="28.70" r="0.6" fill="#222"/>
<circle cx="312.60" cy="35.60" r="1.45" fill="#bd1028"/>
<rect x="311.20" y="42.30" width="2.80" height="2.80" fill="#1f4a96"/>
<polygon points="312.60,50.59 314.22,53.49 310.99,53.49" fill="#3c9c30"/>
<polygon points="312.60,60.91 314.22,58.01 310.99,58.01" fill="#45196e"/>
<text x="317.40" y="37.20" font-size="5.8" text-anchor="start" fill="#333" stroke="#333" stroke-width="0.050" >B</text>
<text x="317.40" y="45.80" font-size="5.8" text-anchor="start" fill="#333" stroke="#333" stroke-width="0.050" >12M</text>
<text x="317.40" y="53.60" font-size="5.8" text-anchor="start" fill="#333" stroke="#333" stroke-width="0.050" >DH</text>
<text x="317.40" y="61.00" font-size="5.8" text-anchor="start" fill="#333" stroke="#333" stroke-width="0.050" >DH+12M</text>
<text x="7.00" y="16.90" font-size="12" text-anchor="start" fill="#000" stroke="#000" stroke-width="0.200" font-weight="700" >A</text>
<text x="7.00" y="140.70" font-size="12" text-anchor="start" fill="#000" stroke="#000" stroke-width="0.200" font-weight="700" >B</text>
<text x="308.20" y="140.70" font-size="12" text-anchor="start" fill="#000" stroke="#000" stroke-width="0.200" font-weight="700" >C</text>
<line x1="46.20" y1="156.80" x2="46.20" y2="225.80" stroke="#1a1a1a" stroke-width="1.2" />
<line x1="43.30" y1="225.20" x2="144.60" y2="225.20" stroke="#1a1a1a" stroke-width="1.2" />
<line x1="43.20" y1="225.20" x2="46.20" y2="225.20" stroke="#000" stroke-width="1" />
<text transform="translate(40.30,227.50) scale(1.1,1)" x="0" y="0" font-size="6.1" text-anchor="end" fill="#1a1a1a" stroke="#1a1a1a" stroke-width="0.045" >0</text>
<line x1="43.20" y1="212.06" x2="46.20" y2="212.06" stroke="#000" stroke-width="1" />
<text transform="translate(40.30,214.36) scale(1.1,1)" x="0" y="0" font-size="6.1" text-anchor="end" fill="#1a1a1a" stroke="#1a1a1a" stroke-width="0.045" >5</text>
<line x1="43.20" y1="198.92" x2="46.20" y2="198.92" stroke="#000" stroke-width="1" />
<text transform="translate(40.30,201.22) scale(1.1,1)" x="0" y="0" font-size="6.1" text-anchor="end" fill="#1a1a1a" stroke="#1a1a1a" stroke-width="0.045" >10</text>
<line x1="43.20" y1="185.78" x2="46.20" y2="185.78" stroke="#000" stroke-width="1" />
<text transform="translate(40.30,188.08) scale(1.1,1)" x="0" y="0" font-size="6.1" text-anchor="end" fill="#1a1a1a" stroke="#1a1a1a" stroke-width="0.045" >15</text>
<line x1="43.20" y1="172.64" x2="46.20" y2="172.64" stroke="#000" stroke-width="1" />
<text transform="translate(40.30,174.94) scale(1.1,1)" x="0" y="0" font-size="6.1" text-anchor="end" fill="#1a1a1a" stroke="#1a1a1a" stroke-width="0.045" >20</text>
<line x1="43.20" y1="159.50" x2="46.20" y2="159.50" stroke="#000" stroke-width="1" />
<text transform="translate(40.30,161.80) scale(1.1,1)" x="0" y="0" font-size="6.1" text-anchor="end" fill="#1a1a1a" stroke="#1a1a1a" stroke-width="0.045" >25</text>
<line x1="58.60" y1="225.20" x2="58.60" y2="228.00" stroke="#000" stroke-width="1" />
<text x="58.60" y="237.10" font-size="6.6" text-anchor="middle" fill="#1a1a1a" stroke="#1a1a1a" stroke-width="0.150" >B</text>
<line x1="83.20" y1="225.20" x2="83.20" y2="228.00" stroke="#000" stroke-width="1" />
<text x="83.20" y="237.10" font-size="6.6" text-anchor="middle" fill="#1a1a1a" stroke="#1a1a1a" stroke-width="0.150" >12M</text>
<line x1="107.60" y1="225.20" x2="107.60" y2="228.00" stroke="#000" stroke-width="1" />
<text x="107.60" y="237.10" font-size="6.6" text-anchor="middle" fill="#1a1a1a" stroke="#1a1a1a" stroke-width="0.150" >DH</text>
<line x1="132.40" y1="225.20" x2="132.40" y2="228.00" stroke="#000" stroke-width="1" />
<text x="132.40" y="237.10" font-size="6.6" text-anchor="middle" fill="#1a1a1a" stroke="#1a1a1a" stroke-width="0.150" textLength="26.80" lengthAdjust="spacingAndGlyphs" >DH+12M</text>
<text x="95.50" y="151.30" font-size="8.7" text-anchor="middle" fill="#1a1a1a" stroke="#1a1a1a" stroke-width="0.150" >NK cells</text>
<text transform="translate(26.20,191.40) rotate(-90)" x="0" y="0" font-size="8.6" font-weight="normal" text-anchor="middle" fill="#111" stroke="#111" stroke-width="0.25" textLength="29.3" lengthAdjust="spacingAndGlyphs">% live cells</text>
<circle cx="58.60" cy="165.80" r="1.55" fill="#bd1028"/>
<circle cx="58.60" cy="170.50" r="1.55" fill="#bd1028"/>
<circle cx="58.60" cy="184.90" r="1.55" fill="#bd1028"/>
<circle cx="58.60" cy="194.20" r="1.55" fill="#bd1028"/>
<line x1="58.60" y1="165.80" x2="58.60" y2="191.80" stroke="#2e2e2e" stroke-width="0.85" />
<line x1="54.90" y1="165.80" x2="62.30" y2="165.80" stroke="#111" stroke-width="1.0" />
<line x1="54.90" y1="191.80" x2="62.30" y2="191.80" stroke="#111" stroke-width="1.0" />
<line x1="50.50" y1="178.90" x2="66.70" y2="178.90" stroke="#000" stroke-width="1.3" />
<circle cx="83.20" cy="174.70" r="1.55" fill="#1f4a96"/>
<circle cx="83.20" cy="202.50" r="1.55" fill="#1f4a96"/>
<circle cx="81.20" cy="207.30" r="1.55" fill="#1f4a96"/>
<circle cx="85.00" cy="206.80" r="1.55" fill="#1f4a96"/>
<line x1="83.20" y1="182.20" x2="83.20" y2="213.30" stroke="#2e2e2e" stroke-width="0.85" />
<line x1="79.50" y1="182.20" x2="86.90" y2="182.20" stroke="#111" stroke-width="1.0" />
<line x1="79.50" y1="213.30" x2="86.90" y2="213.30" stroke="#111" stroke-width="1.0" />
<line x1="75.10" y1="197.70" x2="91.30" y2="197.70" stroke="#000" stroke-width="1.3" />
<circle cx="107.60" cy="190.40" r="1.55" fill="#66bb44"/>
<circle cx="107.60" cy="206.60" r="1.55" fill="#66bb44"/>
<circle cx="107.60" cy="213.50" r="1.55" fill="#66bb44"/>
<circle cx="107.60" cy="223.20" r="1.55" fill="#66bb44"/>
<line x1="107.60" y1="194.50" x2="107.60" y2="222.60" stroke="#2e2e2e" stroke-width="0.85" />
<line x1="103.90" y1="194.50" x2="111.30" y2="194.50" stroke="#111" stroke-width="1.0" />
<line x1="103.90" y1="222.60" x2="111.30" y2="222.60" stroke="#111" stroke-width="1.0" />
<line x1="99.50" y1="208.40" x2="115.70" y2="208.40" stroke="#000" stroke-width="1.3" />
<circle cx="130.10" cy="182.80" r="1.55" fill="#45196e"/>
<circle cx="134.20" cy="182.60" r="1.55" fill="#45196e"/>
<circle cx="132.40" cy="205.70" r="1.55" fill="#45196e"/>
<circle cx="132.40" cy="218.30" r="1.55" fill="#45196e"/>
<line x1="132.40" y1="179.80" x2="132.40" y2="214.70" stroke="#2e2e2e" stroke-width="0.85" />
<line x1="128.70" y1="179.80" x2="136.10" y2="179.80" stroke="#111" stroke-width="1.0" />
<line x1="128.70" y1="214.70" x2="136.10" y2="214.70" stroke="#111" stroke-width="1.0" />
<line x1="124.30" y1="197.40" x2="140.50" y2="197.40" stroke="#000" stroke-width="1.3" />
<line x1="193.70" y1="156.90" x2="193.70" y2="225.50" stroke="#1a1a1a" stroke-width="1.2" />
<line x1="191.00" y1="224.90" x2="293.60" y2="224.90" stroke="#1a1a1a" stroke-width="1.2" />
<line x1="190.70" y1="225.00" x2="193.70" y2="225.00" stroke="#000" stroke-width="1" />
<text transform="translate(188.00,227.30) scale(1.1,1)" x="0" y="0" font-size="6.1" text-anchor="end" fill="#1a1a1a" stroke="#1a1a1a" stroke-width="0.045" >0</text>
<line x1="190.70" y1="192.25" x2="193.70" y2="192.25" stroke="#000" stroke-width="1" />
<text transform="translate(188.00,194.55) scale(1.1,1)" x="0" y="0" font-size="6.1" text-anchor="end" fill="#1a1a1a" stroke="#1a1a1a" stroke-width="0.045" >50</text>
<line x1="190.70" y1="159.50" x2="193.70" y2="159.50" stroke="#000" stroke-width="1" />
<text transform="translate(188.00,161.80) scale(1.1,1)" x="0" y="0" font-size="6.1" text-anchor="end" fill="#1a1a1a" stroke="#1a1a1a" stroke-width="0.045" >100</text>
<line x1="205.80" y1="224.90" x2="205.80" y2="227.70" stroke="#000" stroke-width="1" />
<text x="205.80" y="237.30" font-size="6.6" text-anchor="middle" fill="#1a1a1a" stroke="#1a1a1a" stroke-width="0.150" >B</text>
<line x1="230.50" y1="224.90" x2="230.50" y2="227.70" stroke="#000" stroke-width="1" />
<text x="230.50" y="237.30" font-size="6.6" text-anchor="middle" fill="#1a1a1a" stroke="#1a1a1a" stroke-width="0.150" >12M</text>
<line x1="255.10" y1="224.90" x2="255.10" y2="227.70" stroke="#000" stroke-width="1" />
<text x="255.10" y="237.30" font-size="6.6" text-anchor="middle" fill="#1a1a1a" stroke="#1a1a1a" stroke-width="0.150" >DH</text>
<line x1="279.70" y1="224.90" x2="279.70" y2="227.70" stroke="#000" stroke-width="1" />
<text x="279.70" y="237.30" font-size="6.6" text-anchor="middle" fill="#1a1a1a" stroke="#1a1a1a" stroke-width="0.150" textLength="26.80" lengthAdjust="spacingAndGlyphs" >DH+12M</text>
<text x="243.00" y="151.50" font-size="8.7" text-anchor="middle" fill="#1a1a1a" stroke="#1a1a1a" stroke-width="0.150" >CD16+ NK cells</text>
<text transform="translate(170.90,190.60) rotate(-90)" x="0" y="0" font-size="8.6" font-weight="normal" text-anchor="middle" fill="#111" stroke="#111" stroke-width="0.25" textLength="42.5" lengthAdjust="spacingAndGlyphs">% total NK cells</text>
<circle cx="205.80" cy="190.70" r="1.55" fill="#bd1028"/>
<circle cx="205.80" cy="199.70" r="1.55" fill="#bd1028"/>
<circle cx="205.80" cy="205.60" r="1.55" fill="#bd1028"/>
<circle cx="205.80" cy="219.20" r="1.55" fill="#bd1028"/>
<line x1="205.80" y1="191.90" x2="205.80" y2="215.40" stroke="#2e2e2e" stroke-width="0.85" />
<line x1="202.10" y1="191.90" x2="209.50" y2="191.90" stroke="#111" stroke-width="1.0" />
<line x1="202.10" y1="215.40" x2="209.50" y2="215.40" stroke="#111" stroke-width="1.0" />
<line x1="197.70" y1="203.30" x2="213.90" y2="203.30" stroke="#000" stroke-width="1.3" />
<circle cx="228.30" cy="162.20" r="1.55" fill="#1f4a96"/>
<circle cx="234.80" cy="162.20" r="1.55" fill="#1f4a96"/>
<circle cx="232.60" cy="166.30" r="1.55" fill="#1f4a96"/>
<circle cx="228.30" cy="168.70" r="1.55" fill="#1f4a96"/>
<line x1="230.50" y1="162.20" x2="230.50" y2="167.60" stroke="#2e2e2e" stroke-width="0.85" />
<line x1="226.80" y1="162.20" x2="234.20" y2="162.20" stroke="#111" stroke-width="1.0" />
<line x1="226.80" y1="167.60" x2="234.20" y2="167.60" stroke="#111" stroke-width="1.0" />
<line x1="222.40" y1="165.30" x2="238.60" y2="165.30" stroke="#000" stroke-width="1.3" />
<circle cx="255.00" cy="162.40" r="1.55" fill="#66bb44"/>
<circle cx="255.00" cy="174.70" r="1.55" fill="#66bb44"/>
<circle cx="255.00" cy="179.90" r="1.55" fill="#66bb44"/>
<circle cx="255.00" cy="188.40" r="1.55" fill="#66bb44"/>
<line x1="255.00" y1="165.60" x2="255.00" y2="187.30" stroke="#2e2e2e" stroke-width="0.85" />
<line x1="251.30" y1="165.60" x2="258.70" y2="165.60" stroke="#111" stroke-width="1.0" />
<line x1="251.30" y1="187.30" x2="258.70" y2="187.30" stroke="#111" stroke-width="1.0" />
<line x1="246.90" y1="176.00" x2="263.10" y2="176.00" stroke="#000" stroke-width="1.3" />
<circle cx="279.40" cy="163.40" r="1.55" fill="#45196e"/>
<circle cx="277.50" cy="171.10" r="1.55" fill="#45196e"/>
<circle cx="281.80" cy="174.70" r="1.55" fill="#45196e"/>
<circle cx="279.40" cy="188.60" r="1.55" fill="#45196e"/>
<line x1="279.40" y1="164.00" x2="279.40" y2="185.00" stroke="#2e2e2e" stroke-width="0.85" />
<line x1="275.70" y1="164.00" x2="283.10" y2="164.00" stroke="#111" stroke-width="1.0" />
<line x1="275.70" y1="185.00" x2="283.10" y2="185.00" stroke="#111" stroke-width="1.0" />
<line x1="271.30" y1="174.40" x2="287.50" y2="174.40" stroke="#000" stroke-width="1.3" />
<line x1="205.70" y1="158.00" x2="230.50" y2="158.00" stroke="#333" stroke-width="1.1" />
<line x1="205.70" y1="155.40" x2="205.70" y2="160.60" stroke="#111" stroke-width="1.0" />
<line x1="230.50" y1="155.40" x2="230.50" y2="160.60" stroke="#111" stroke-width="1.0" />
<circle cx="216.90" cy="154.80" r="0.6" fill="#222"/>
<circle cx="219.10" cy="154.80" r="0.6" fill="#222"/>
<line x1="45.80" y1="261.40" x2="45.80" y2="328.80" stroke="#1a1a1a" stroke-width="1.2" />
<line x1="43.00" y1="328.20" x2="143.50" y2="328.20" stroke="#1a1a1a" stroke-width="1.2" />
<line x1="42.80" y1="328.20" x2="45.80" y2="328.20" stroke="#000" stroke-width="1" />
<text transform="translate(40.30,330.50) scale(1.1,1)" x="0" y="0" font-size="6.1" text-anchor="end" fill="#1a1a1a" stroke="#1a1a1a" stroke-width="0.045" >0</text>
<line x1="42.80" y1="312.20" x2="45.80" y2="312.20" stroke="#000" stroke-width="1" />
<text transform="translate(40.30,314.50) scale(1.1,1)" x="0" y="0" font-size="6.1" text-anchor="end" fill="#1a1a1a" stroke="#1a1a1a" stroke-width="0.045" >5</text>
<line x1="42.80" y1="296.20" x2="45.80" y2="296.20" stroke="#000" stroke-width="1" />
<text transform="translate(40.30,298.50) scale(1.1,1)" x="0" y="0" font-size="6.1" text-anchor="end" fill="#1a1a1a" stroke="#1a1a1a" stroke-width="0.045" >10</text>
<line x1="42.80" y1="280.20" x2="45.80" y2="280.20" stroke="#000" stroke-width="1" />
<text transform="translate(40.30,282.50) scale(1.1,1)" x="0" y="0" font-size="6.1" text-anchor="end" fill="#1a1a1a" stroke="#1a1a1a" stroke-width="0.045" >15</text>
<line x1="42.80" y1="264.20" x2="45.80" y2="264.20" stroke="#000" stroke-width="1" />
<text transform="translate(40.30,266.50) scale(1.1,1)" x="0" y="0" font-size="6.1" text-anchor="end" fill="#1a1a1a" stroke="#1a1a1a" stroke-width="0.045" >20</text>
<line x1="57.90" y1="328.20" x2="57.90" y2="331.00" stroke="#000" stroke-width="1" />
<text x="57.90" y="340.00" font-size="6.6" text-anchor="middle" fill="#1a1a1a" stroke="#1a1a1a" stroke-width="0.150" >B</text>
<line x1="82.30" y1="328.20" x2="82.30" y2="331.00" stroke="#000" stroke-width="1" />
<text x="82.30" y="340.00" font-size="6.6" text-anchor="middle" fill="#1a1a1a" stroke="#1a1a1a" stroke-width="0.150" >12M</text>
<line x1="106.70" y1="328.20" x2="106.70" y2="331.00" stroke="#000" stroke-width="1" />
<text x="106.70" y="340.00" font-size="6.6" text-anchor="middle" fill="#1a1a1a" stroke="#1a1a1a" stroke-width="0.150" >DH</text>
<line x1="131.30" y1="328.20" x2="131.30" y2="331.00" stroke="#000" stroke-width="1" />
<text x="131.30" y="340.00" font-size="6.6" text-anchor="middle" fill="#1a1a1a" stroke="#1a1a1a" stroke-width="0.150" textLength="26.80" lengthAdjust="spacingAndGlyphs" >DH+12M</text>
<text x="94.60" y="255.70" font-size="8.7" text-anchor="middle" fill="#1a1a1a" stroke="#1a1a1a" stroke-width="0.150" ><tspan font-family="Liberation Serif, serif" font-size="8.6" stroke-width="0.05">γδ</tspan> T cells</text>
<text transform="translate(26.90,294.90) rotate(-90)" x="0" y="0" font-size="8.6" font-weight="normal" text-anchor="middle" fill="#111" stroke="#111" stroke-width="0.25" textLength="38.9" lengthAdjust="spacingAndGlyphs">% total T cells</text>
<circle cx="56.50" cy="313.30" r="1.55" fill="#bd1028"/>
<circle cx="60.80" cy="317.20" r="1.55" fill="#bd1028"/>
<circle cx="60.80" cy="321.50" r="1.55" fill="#bd1028"/>
<circle cx="56.50" cy="324.40" r="1.55" fill="#bd1028"/>
<line x1="57.90" y1="313.60" x2="57.90" y2="323.70" stroke="#2e2e2e" stroke-width="0.85" />
<line x1="54.20" y1="313.60" x2="61.60" y2="313.60" stroke="#111" stroke-width="1.0" />
<line x1="54.20" y1="323.70" x2="61.60" y2="323.70" stroke="#111" stroke-width="1.0" />
<line x1="49.80" y1="319.10" x2="66.00" y2="319.10" stroke="#000" stroke-width="1.3" />
<circle cx="80.80" cy="305.70" r="1.55" fill="#1f4a96"/>
<circle cx="85.10" cy="308.90" r="1.55" fill="#1f4a96"/>
<circle cx="80.80" cy="322.20" r="1.55" fill="#1f4a96"/>
<circle cx="85.10" cy="321.50" r="1.55" fill="#1f4a96"/>
<line x1="82.30" y1="305.70" x2="82.30" y2="323.20" stroke="#2e2e2e" stroke-width="0.85" />
<line x1="78.60" y1="305.70" x2="86.00" y2="305.70" stroke="#111" stroke-width="1.0" />
<line x1="78.60" y1="323.20" x2="86.00" y2="323.20" stroke="#111" stroke-width="1.0" />
<line x1="74.20" y1="314.60" x2="90.40" y2="314.60" stroke="#000" stroke-width="1.3" />
<circle cx="108.60" cy="280.70" r="1.55" fill="#66bb44"/>
<circle cx="104.60" cy="283.80" r="1.55" fill="#66bb44"/>
<circle cx="106.70" cy="307.80" r="1.55" fill="#66bb44"/>
<circle cx="106.70" cy="319.00" r="1.55" fill="#66bb44"/>
<line x1="106.70" y1="278.90" x2="106.70" y2="316.10" stroke="#2e2e2e" stroke-width="0.85" />
<line x1="103.00" y1="278.90" x2="110.40" y2="278.90" stroke="#111" stroke-width="1.0" />
<line x1="103.00" y1="316.10" x2="110.40" y2="316.10" stroke="#111" stroke-width="1.0" />
<line x1="98.60" y1="297.50" x2="114.80" y2="297.50" stroke="#000" stroke-width="1.3" />
<circle cx="127.00" cy="310.70" r="1.55" fill="#45196e"/>
<circle cx="131.60" cy="311.30" r="1.55" fill="#45196e"/>
<circle cx="135.00" cy="307.50" r="1.55" fill="#45196e"/>
<circle cx="131.30" cy="317.60" r="1.55" fill="#45196e"/>
<line x1="131.30" y1="307.30" x2="131.30" y2="316.10" stroke="#2e2e2e" stroke-width="0.85" />
<line x1="127.60" y1="307.30" x2="135.00" y2="307.30" stroke="#111" stroke-width="1.0" />
<line x1="127.60" y1="316.10" x2="135.00" y2="316.10" stroke="#111" stroke-width="1.0" />
<line x1="123.20" y1="311.80" x2="139.40" y2="311.80" stroke="#000" stroke-width="1.3" />
<line x1="193.30" y1="261.40" x2="193.30" y2="328.90" stroke="#1a1a1a" stroke-width="1.2" />
<line x1="191.00" y1="328.30" x2="289.70" y2="328.30" stroke="#1a1a1a" stroke-width="1.2" />
<line x1="190.30" y1="328.30" x2="193.30" y2="328.30" stroke="#000" stroke-width="1" />
<text transform="translate(188.00,330.60) scale(1.1,1)" x="0" y="0" font-size="6.1" text-anchor="end" fill="#1a1a1a" stroke="#1a1a1a" stroke-width="0.045" >0</text>
<line x1="190.30" y1="312.30" x2="193.30" y2="312.30" stroke="#000" stroke-width="1" />
<text transform="translate(188.00,314.60) scale(1.1,1)" x="0" y="0" font-size="6.1" text-anchor="end" fill="#1a1a1a" stroke="#1a1a1a" stroke-width="0.045" >10</text>
<line x1="190.30" y1="296.30" x2="193.30" y2="296.30" stroke="#000" stroke-width="1" />
<text transform="translate(188.00,298.60) scale(1.1,1)" x="0" y="0" font-size="6.1" text-anchor="end" fill="#1a1a1a" stroke="#1a1a1a" stroke-width="0.045" >20</text>
<line x1="190.30" y1="280.30" x2="193.30" y2="280.30" stroke="#000" stroke-width="1" />
<text transform="translate(188.00,282.60) scale(1.1,1)" x="0" y="0" font-size="6.1" text-anchor="end" fill="#1a1a1a" stroke="#1a1a1a" stroke-width="0.045" >30</text>
<line x1="190.30" y1="264.30" x2="193.30" y2="264.30" stroke="#000" stroke-width="1" />
<text transform="translate(188.00,266.60) scale(1.1,1)" x="0" y="0" font-size="6.1" text-anchor="end" fill="#1a1a1a" stroke="#1a1a1a" stroke-width="0.045" >40</text>
<line x1="205.80" y1="328.30" x2="205.80" y2="331.10" stroke="#000" stroke-width="1" />
<text x="205.80" y="340.00" font-size="6.6" text-anchor="middle" fill="#1a1a1a" stroke="#1a1a1a" stroke-width="0.150" >B</text>
<line x1="230.10" y1="328.30" x2="230.10" y2="331.10" stroke="#000" stroke-width="1" />
<text x="230.10" y="340.00" font-size="6.6" text-anchor="middle" fill="#1a1a1a" stroke="#1a1a1a" stroke-width="0.150" >12M</text>
<line x1="254.00" y1="328.30" x2="254.00" y2="331.10" stroke="#000" stroke-width="1" />
<text x="254.00" y="340.00" font-size="6.6" text-anchor="middle" fill="#1a1a1a" stroke="#1a1a1a" stroke-width="0.150" >DH</text>
<line x1="278.40" y1="328.30" x2="278.40" y2="331.10" stroke="#000" stroke-width="1" />
<text x="278.40" y="340.00" font-size="6.6" text-anchor="middle" fill="#1a1a1a" stroke="#1a1a1a" stroke-width="0.150" textLength="26.80" lengthAdjust="spacingAndGlyphs" >DH+12M</text>
<text x="242.50" y="255.80" font-size="8.7" text-anchor="middle" fill="#1a1a1a" stroke="#1a1a1a" stroke-width="0.150" >CD14+ cells</text>
<text transform="translate(174.30,294.50) rotate(-90)" x="0" y="0" font-size="8.6" font-weight="normal" text-anchor="middle" fill="#111" stroke="#111" stroke-width="0.25" textLength="30.4" lengthAdjust="spacingAndGlyphs">% live cells</text>
<circle cx="205.80" cy="296.50" r="1.55" fill="#bd1028"/>
<circle cx="202.20" cy="327.00" r="1.55" fill="#bd1028"/>
<circle cx="205.80" cy="328.40" r="1.55" fill="#bd1028"/>
<circle cx="210.00" cy="327.60" r="1.55" fill="#bd1028"/>
<line x1="205.80" y1="304.40" x2="205.80" y2="328.30" stroke="#2e2e2e" stroke-width="0.85" />
<line x1="202.10" y1="304.40" x2="209.50" y2="304.40" stroke="#111" stroke-width="1.0" />
<line x1="197.70" y1="319.70" x2="213.90" y2="319.70" stroke="#000" stroke-width="1.3" />
<circle cx="230.10" cy="298.30" r="1.55" fill="#1f4a96"/>
<circle cx="226.50" cy="302.90" r="1.55" fill="#1f4a96"/>
<circle cx="233.70" cy="303.60" r="1.55" fill="#1f4a96"/>
<circle cx="231.50" cy="304.60" r="1.55" fill="#1f4a96"/>
<line x1="230.10" y1="299.10" x2="230.10" y2="305.80" stroke="#2e2e2e" stroke-width="0.85" />
<line x1="226.40" y1="299.10" x2="233.80" y2="299.10" stroke="#111" stroke-width="1.0" />
<line x1="226.40" y1="305.80" x2="233.80" y2="305.80" stroke="#111" stroke-width="1.0" />
<line x1="222.00" y1="302.50" x2="238.20" y2="302.50" stroke="#000" stroke-width="1.3" />
<circle cx="256.50" cy="290.70" r="1.55" fill="#66bb44"/>
<circle cx="252.20" cy="292.90" r="1.55" fill="#66bb44"/>
<circle cx="254.00" cy="309.40" r="1.55" fill="#66bb44"/>
<circle cx="254.00" cy="324.10" r="1.55" fill="#66bb44"/>
<line x1="254.00" y1="288.60" x2="254.00" y2="319.80" stroke="#2e2e2e" stroke-width="0.85" />
<line x1="250.30" y1="288.60" x2="257.70" y2="288.60" stroke="#111" stroke-width="1.0" />
<line x1="250.30" y1="319.80" x2="257.70" y2="319.80" stroke="#111" stroke-width="1.0" />
<line x1="245.90" y1="304.40" x2="262.10" y2="304.40" stroke="#000" stroke-width="1.3" />
<circle cx="278.40" cy="305.50" r="1.55" fill="#45196e"/>
<circle cx="278.40" cy="317.00" r="1.55" fill="#45196e"/>
<circle cx="280.80" cy="319.40" r="1.55" fill="#45196e"/>
<circle cx="276.50" cy="321.50" r="1.55" fill="#45196e"/>
<line x1="278.40" y1="308.70" x2="278.40" y2="322.70" stroke="#2e2e2e" stroke-width="0.85" />
<line x1="274.70" y1="308.70" x2="282.10" y2="308.70" stroke="#111" stroke-width="1.0" />
<line x1="274.70" y1="322.70" x2="282.10" y2="322.70" stroke="#111" stroke-width="1.0" />
<line x1="270.30" y1="315.50" x2="286.50" y2="315.50" stroke="#000" stroke-width="1.3" />
<rect x="347.00" y="144.50" width="7.37" height="22.30" fill="#ff8a2c"/>
<rect x="354.07" y="144.50" width="7.37" height="22.30" fill="#ffb84e"/>
<rect x="361.15" y="144.50" width="7.37" height="22.30" fill="#f9f07a"/>
<rect x="368.22" y="144.50" width="7.37" height="22.30" fill="#ff9832"/>
<rect x="375.29" y="144.50" width="7.37" height="22.30" fill="#ffae47"/>
<rect x="382.37" y="144.50" width="7.37" height="22.30" fill="#bcd8a8"/>
<rect x="389.44" y="144.50" width="7.37" height="22.30" fill="#ff6e21"/>
<rect x="396.52" y="144.50" width="7.37" height="22.30" fill="#fddc6a"/>
<rect x="403.59" y="144.50" width="7.37" height="22.30" fill="#ff9a33"/>
<rect x="410.66" y="144.50" width="7.37" height="22.30" fill="#ffb04a"/>
<rect x="417.74" y="144.50" width="7.37" height="22.30" fill="#ff7a25"/>
<rect x="424.81" y="144.50" width="7.37" height="22.30" fill="#ffbe51"/>
<rect x="431.88" y="144.50" width="7.37" height="22.30" fill="#ff8a2c"/>
<rect x="438.96" y="144.50" width="7.37" height="22.30" fill="#ff9e35"/>
<rect x="446.03" y="144.50" width="7.37" height="22.30" fill="#ff9e35"/>
<rect x="453.11" y="144.50" width="7.37" height="22.30" fill="#fde070"/>
<rect x="460.18" y="144.50" width="7.37" height="22.30" fill="#e0ea90"/>
<rect x="467.25" y="144.50" width="7.37" height="22.30" fill="#d8e898"/>
<rect x="474.33" y="144.50" width="7.37" height="22.30" fill="#fde070"/>
<rect x="347.00" y="166.50" width="7.37" height="22.50" fill="#ff9032"/>
<rect x="354.07" y="166.50" width="7.37" height="22.50" fill="#ff5a1c"/>
<rect x="361.15" y="166.50" width="7.37" height="22.50" fill="#ffb04a"/>
<rect x="368.22" y="166.50" width="7.37" height="22.50" fill="#ff4416"/>
<rect x="375.29" y="166.50" width="7.37" height="22.50" fill="#ff7a27"/>
<rect x="382.37" y="166.50" width="7.37" height="22.50" fill="#fed868"/>
<rect x="389.44" y="166.50" width="7.37" height="22.50" fill="#ff3e10"/>
<rect x="396.52" y="166.50" width="7.37" height="22.50" fill="#ff7428"/>
<rect x="403.59" y="166.50" width="7.37" height="22.50" fill="#ff9032"/>
<rect x="410.66" y="166.50" width="7.37" height="22.50" fill="#ff9a33"/>
<rect x="417.74" y="166.50" width="7.37" height="22.50" fill="#ff2a08"/>
<rect x="424.81" y="166.50" width="7.37" height="22.50" fill="#ff8c40"/>
<rect x="431.88" y="166.50" width="7.37" height="22.50" fill="#ff6a28"/>
<rect x="438.96" y="166.50" width="7.37" height="22.50" fill="#ff5a20"/>
<rect x="446.03" y="166.50" width="7.37" height="22.50" fill="#ff5a20"/>
<rect x="453.11" y="166.50" width="7.37" height="22.50" fill="#ff9032"/>
<rect x="460.18" y="166.50" width="7.37" height="22.50" fill="#cfe0a0"/>
<rect x="467.25" y="166.50" width="7.37" height="22.50" fill="#c0dca8"/>
<rect x="474.33" y="166.50" width="7.37" height="22.50" fill="#ff7828"/>
<rect x="347.00" y="188.70" width="7.37" height="22.60" fill="#ff8c2f"/>
<rect x="354.07" y="188.70" width="7.37" height="22.60" fill="#ff4a16"/>
<rect x="361.15" y="188.70" width="7.37" height="22.60" fill="#ffae4a"/>
<rect x="368.22" y="188.70" width="7.37" height="22.60" fill="#ff3a0e"/>
<rect x="375.29" y="188.70" width="7.37" height="22.60" fill="#ff4615"/>
<rect x="382.37" y="188.70" width="7.37" height="22.60" fill="#ffb04a"/>
<rect x="389.44" y="188.70" width="7.37" height="22.60" fill="#ff3009"/>
<rect x="396.52" y="188.70" width="7.37" height="22.60" fill="#ff7628"/>
<rect x="403.59" y="188.70" width="7.37" height="22.60" fill="#ff8a2e"/>
<rect x="410.66" y="188.70" width="7.37" height="22.60" fill="#ff4c18"/>
<rect x="417.74" y="188.70" width="7.37" height="22.60" fill="#ff2a08"/>
<rect x="424.81" y="188.70" width="7.37" height="22.60" fill="#ffa04a"/>
<rect x="431.88" y="188.70" width="7.37" height="22.60" fill="#ff2c09"/>
<rect x="438.96" y="188.70" width="7.37" height="22.60" fill="#ff4a16"/>
<rect x="446.03" y="188.70" width="7.37" height="22.60" fill="#ff2a08"/>
<rect x="453.11" y="188.70" width="7.37" height="22.60" fill="#ff8a2e"/>
<rect x="460.18" y="188.70" width="7.37" height="22.60" fill="#c4dca8"/>
<rect x="467.25" y="188.70" width="7.37" height="22.60" fill="#d4e4a0"/>
<rect x="474.33" y="188.70" width="7.37" height="22.60" fill="#ff5015"/>
<rect x="347.00" y="211.00" width="7.37" height="22.80" fill="#80b8d0"/>
<rect x="354.07" y="211.00" width="7.37" height="22.80" fill="#6cb0dc"/>
<rect x="361.15" y="211.00" width="7.37" height="22.80" fill="#cfe39a"/>
<rect x="368.22" y="211.00" width="7.37" height="22.80" fill="#3898e8"/>
<rect x="375.29" y="211.00" width="7.37" height="22.80" fill="#70b0d8"/>
<rect x="382.37" y="211.00" width="7.37" height="22.80" fill="#f6f27a"/>
<rect x="389.44" y="211.00" width="7.37" height="22.80" fill="#2c94f0"/>
<rect x="396.52" y="211.00" width="7.37" height="22.80" fill="#80bcd4"/>
<rect x="403.59" y="211.00" width="7.37" height="22.80" fill="#80bcd4"/>
<rect x="410.66" y="211.00" width="7.37" height="22.80" fill="#70b0d8"/>
<rect x="417.74" y="211.00" width="7.37" height="22.80" fill="#1890f0"/>
<rect x="424.81" y="211.00" width="7.37" height="22.80" fill="#a0c8c0"/>
<rect x="431.88" y="211.00" width="7.37" height="22.80" fill="#4aa0e4"/>
<rect x="438.96" y="211.00" width="7.37" height="22.80" fill="#58a8e0"/>
<rect x="446.03" y="211.00" width="7.37" height="22.80" fill="#48a0e4"/>
<rect x="453.11" y="211.00" width="7.37" height="22.80" fill="#8cc4cc"/>
<rect x="460.18" y="211.00" width="7.37" height="22.80" fill="#ffa84a"/>
<rect x="467.25" y="211.00" width="7.37" height="22.80" fill="#ffa84a"/>
<rect x="474.33" y="211.00" width="7.37" height="22.80" fill="#7cbcd8"/>
<rect x="347.5" y="144.50" width="133.90" height="89.00" fill="none" stroke="#222" stroke-width="1"/>
<text x="343.90" y="157.85" font-size="6.6" text-anchor="end" fill="#1a1a1a" stroke="#1a1a1a" stroke-width="0.100" textLength="23.00" lengthAdjust="spacingAndGlyphs" >Baseline</text>
<text x="343.90" y="180.35" font-size="6.6" text-anchor="end" fill="#1a1a1a" stroke="#1a1a1a" stroke-width="0.100" textLength="12.50" lengthAdjust="spacingAndGlyphs" >12M</text>
<text x="343.90" y="202.45" font-size="6.6" text-anchor="end" fill="#1a1a1a" stroke="#1a1a1a" stroke-width="0.100" textLength="26.70" lengthAdjust="spacingAndGlyphs" >DH+12M</text>
<text x="343.90" y="224.65" font-size="6.6" text-anchor="end" fill="#1a1a1a" stroke="#1a1a1a" stroke-width="0.100" textLength="21.00" lengthAdjust="spacingAndGlyphs" >Healthy</text>
<text transform="translate(352.84,236.9) rotate(-90)" x="0" y="0" font-size="6.4" text-anchor="end" fill="#1a1a1a" stroke="#1a1a1a" stroke-width="0.06">Angiogenesis</text>
<text transform="translate(359.91,236.9) rotate(-90)" x="0" y="0" font-size="6.4" text-anchor="end" fill="#1a1a1a" stroke="#1a1a1a" stroke-width="0.06">Antigen Presentation</text>
<text transform="translate(366.98,236.9) rotate(-90)" x="0" y="0" font-size="6.4" text-anchor="end" fill="#1a1a1a" stroke="#1a1a1a" stroke-width="0.06">Cell Cycle and Apoptosis</text>
<text transform="translate(374.06,236.9) rotate(-90)" x="0" y="0" font-size="6.4" text-anchor="end" fill="#1a1a1a" stroke="#1a1a1a" stroke-width="0.06">Cell Migration and Adhesion</text>
<text transform="translate(381.13,236.9) rotate(-90)" x="0" y="0" font-size="6.4" text-anchor="end" fill="#1a1a1a" stroke="#1a1a1a" stroke-width="0.06">Chemokine signaling</text>
<text transform="translate(388.21,236.9) rotate(-90)" x="0" y="0" font-size="6.4" text-anchor="end" fill="#1a1a1a" stroke="#1a1a1a" stroke-width="0.06">Complement Activation</text>
<text transform="translate(395.28,236.9) rotate(-90)" x="0" y="0" font-size="6.4" text-anchor="end" fill="#1a1a1a" stroke="#1a1a1a" stroke-width="0.06">Cytokine Signaling</text>
<text transform="translate(402.35,236.9) rotate(-90)" x="0" y="0" font-size="6.4" text-anchor="end" fill="#1a1a1a" stroke="#1a1a1a" stroke-width="0.06">Diff/Maint Myeloid Cells</text>
<text transform="translate(409.43,236.9) rotate(-90)" x="0" y="0" font-size="6.4" text-anchor="end" fill="#1a1a1a" stroke="#1a1a1a" stroke-width="0.06">ECM remodeling</text>
<text transform="translate(416.50,236.9) rotate(-90)" x="0" y="0" font-size="6.4" text-anchor="end" fill="#1a1a1a" stroke="#1a1a1a" stroke-width="0.06">Fc Receptor Signaling</text>
<text transform="translate(423.57,236.9) rotate(-90)" x="0" y="0" font-size="6.4" text-anchor="end" fill="#1a1a1a" stroke="#1a1a1a" stroke-width="0.06">Growth Factor Signaling</text>
<text transform="translate(430.65,236.9) rotate(-90)" x="0" y="0" font-size="6.4" text-anchor="end" fill="#1a1a1a" stroke="#1a1a1a" stroke-width="0.06">Interferon Signaling</text>
<text transform="translate(437.72,236.9) rotate(-90)" x="0" y="0" font-size="6.4" text-anchor="end" fill="#1a1a1a" stroke="#1a1a1a" stroke-width="0.06">Lymphocyte activation</text>
<text transform="translate(444.79,236.9) rotate(-90)" x="0" y="0" font-size="6.4" text-anchor="end" fill="#1a1a1a" stroke="#1a1a1a" stroke-width="0.06">Metabolism</text>
<text transform="translate(451.87,236.9) rotate(-90)" x="0" y="0" font-size="6.4" text-anchor="end" fill="#1a1a1a" stroke="#1a1a1a" stroke-width="0.06">Pathogen Response</text>
<text transform="translate(458.94,236.9) rotate(-90)" x="0" y="0" font-size="6.4" text-anchor="end" fill="#1a1a1a" stroke="#1a1a1a" stroke-width="0.06">T-cell Activ/Checkpoint Sig</text>
<text transform="translate(466.02,236.9) rotate(-90)" x="0" y="0" font-size="6.4" text-anchor="end" fill="#1a1a1a" stroke="#1a1a1a" stroke-width="0.06">TH1 Activation</text>
<text transform="translate(473.09,236.9) rotate(-90)" x="0" y="0" font-size="6.4" text-anchor="end" fill="#1a1a1a" stroke="#1a1a1a" stroke-width="0.06">TH2 Activation</text>
<text transform="translate(480.16,236.9) rotate(-90)" x="0" y="0" font-size="6.4" text-anchor="end" fill="#1a1a1a" stroke="#1a1a1a" stroke-width="0.06">TLR signaling</text>
<defs><linearGradient id="cb" x1="0" y1="0" x2="0" y2="1"><stop offset="0" stop-color="#ff3608"/><stop offset="0.22" stop-color="#f98a3c"/><stop offset="0.45" stop-color="#fbf07c"/><stop offset="0.55" stop-color="#e6ee90"/><stop offset="0.70" stop-color="#98ccb4"/><stop offset="0.86" stop-color="#54a8d8"/><stop offset="1" stop-color="#1a8cf4"/></linearGradient></defs>
<rect x="492.6" y="144.3" width="11.0" height="89.4" fill="url(#cb)" stroke="#222" stroke-width="1"/>
<line x1="492.60" y1="163.70" x2="494.30" y2="163.70" stroke="#111" stroke-width="0.9" />
<line x1="501.80" y1="163.70" x2="503.50" y2="163.70" stroke="#111" stroke-width="0.9" />
<text x="508.20" y="166.00" font-size="6.6" text-anchor="start" fill="#1a1a1a" stroke="#1a1a1a" stroke-width="0.150" >2</text>
<line x1="492.60" y1="184.80" x2="494.30" y2="184.80" stroke="#111" stroke-width="0.9" />
<line x1="501.80" y1="184.80" x2="503.50" y2="184.80" stroke="#111" stroke-width="0.9" />
<text x="508.20" y="187.10" font-size="6.6" text-anchor="start" fill="#1a1a1a" stroke="#1a1a1a" stroke-width="0.150" >0</text>
<line x1="492.60" y1="206.40" x2="494.30" y2="206.40" stroke="#111" stroke-width="0.9" />
<line x1="501.80" y1="206.40" x2="503.50" y2="206.40" stroke="#111" stroke-width="0.9" />
<text x="506.80" y="208.70" font-size="6.6" text-anchor="start" fill="#1a1a1a" stroke="#1a1a1a" stroke-width="0.150" >-2</text>
<line x1="492.60" y1="228.00" x2="494.30" y2="228.00" stroke="#111" stroke-width="0.9" />
<line x1="501.80" y1="228.00" x2="503.50" y2="228.00" stroke="#111" stroke-width="0.9" />
<text x="506.80" y="230.30" font-size="6.6" text-anchor="start" fill="#1a1a1a" stroke="#1a1a1a" stroke-width="0.150" >-4</text>
<rect x="0.5" y="0.5" width="519" height="348" fill="none" stroke="#000" stroke-width="1"/>
</svg>
</body></html>
